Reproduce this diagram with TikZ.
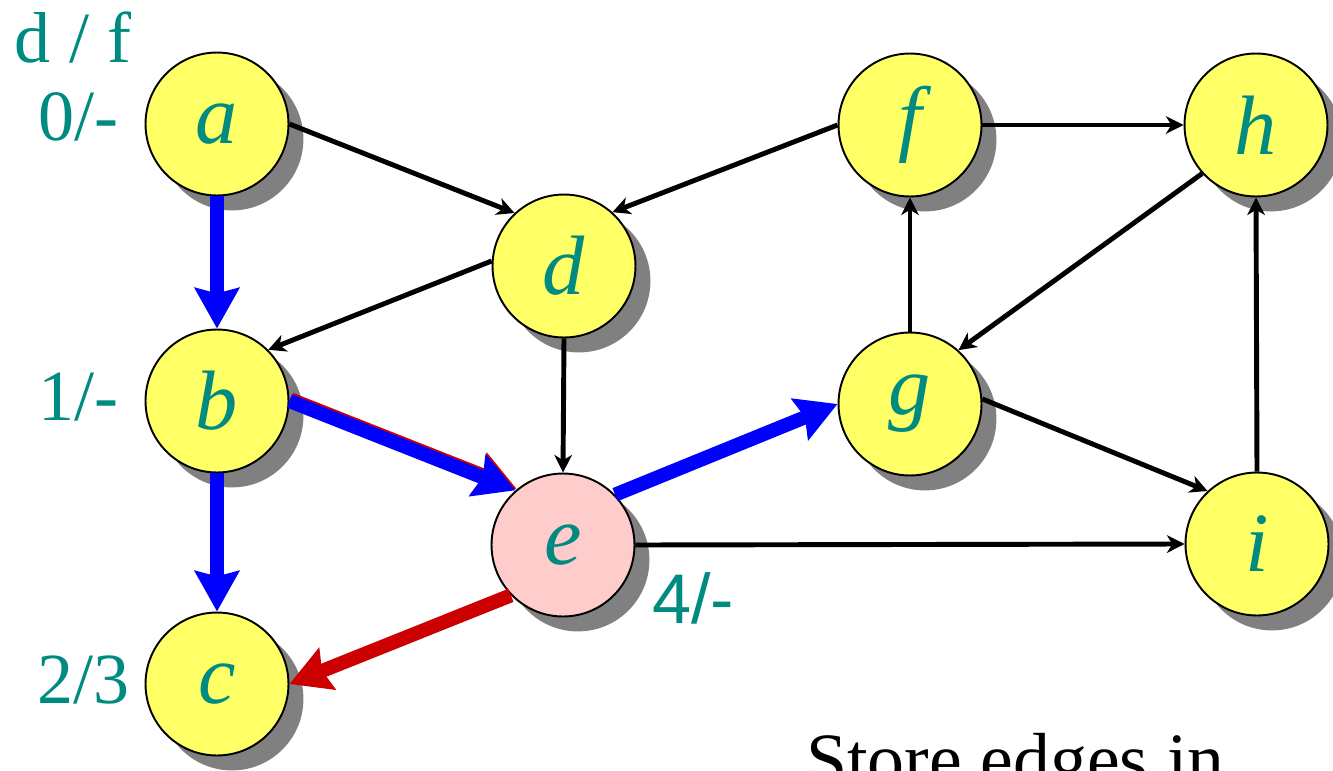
\documentclass[tikz,border=0pt]{standalone}
\usepackage{fontspec}
\setmainfont{Liberation Serif}
\newfontfamily\stampsans{Liberation Sans}
\usetikzlibrary{arrows.meta,shadows}
\definecolor{vtxyellow}{RGB}{255,255,102}
\definecolor{vtxpink}{RGB}{255,204,204}
\definecolor{stampteal}{RGB}{0,139,128}
\definecolor{treeblue}{RGB}{0,0,255}
\definecolor{backred}{RGB}{204,0,0}

\begin{document}
\begin{tikzpicture}[x=0.02cm,y=-0.02cm,
    vertex/.style={circle,draw,line width=1.1pt,fill=vtxyellow,minimum size=2.86cm,inner sep=0pt,
      text=stampteal,font=\fontsize{48}{48}\selectfont\itshape,
      drop shadow={shadow xshift=8.5pt,shadow yshift=-8.5pt,fill=black!50,opacity=1}},
    stamp/.style={text=stampteal,font=\fontsize{41}{41}\selectfont,inner sep=0pt},
    edge/.style={line width=2.8pt,-{Stealth[length=10pt,width=10pt,inset=3pt]}},
    treeedge/.style={line width=8pt,treeblue,-{Stealth[length=23pt,width=25pt,inset=3pt]}},
    backedge/.style={line width=8pt,backred,-{Stealth[length=23pt,width=25pt,inset=3pt]}}]
  \useasboundingbox (0,0) rectangle (1333,771);
  \clip (0,0) rectangle (1333,771);

  % vertices
  \node[vertex] (a) at (217,124) {a};
  \node[vertex] (b) at (217,401) {b};
  \node[vertex] (c) at (217,684) {c};
  \node[vertex] (d) at (564,266) {d};
  \node[vertex,fill=vtxpink] (e) at (563,545) {e};
  \node[vertex] (f) at (910,125) {f};
  \node[vertex] (g) at (910,404) {g};
  \node[vertex] (h) at (1256,125) {h};
  \node[vertex] (i) at (1257,544) {i};

  % discovery / finish times
  \node[stamp,anchor=base] (df) at (73,62) {d / f};
  \node[stamp,anchor=base east] (ta) at (119,140) {0/-};
  \node[stamp,anchor=base east] (tb) at (119,420) {1/-};
  \node[stamp,anchor=base east] (tc) at (130,703) {2/3};
  \node[stamp,anchor=base west,font=\fontsize{40}{40}\selectfont\stampsans] (te) at (652,623) {4/-};

  % graph edges
  \draw[edge] (a.east) -- (d.133);
  \draw[edge] (f.west) -- (d.48);
  \draw[edge] (f.east) -- (h.west);
  \draw[edge] (d.176) -- (b.45);
  \draw[edge] (d.south) -- (e.north);
  \draw[edge] (g.north) -- (f.south);
  \draw[edge] (h.222) -- (g.48);
  \draw[edge] (g.4) -- (i.133);
  \draw[edge] (i.north) -- (h.south);
  \draw[edge] (e.east) -- (i.west);

  % tree edges and the back edge
  \draw[treeedge] (a.south) -- (b.north);
  \draw[treeedge] (b.south) -- (c.north);
  \draw[treeedge,backred,transform canvas={shift={(0.6pt,0.9pt)}}] (b.east) -- (e.131);
  \draw[treeedge] (b.east) -- (e.131);
  \draw[treeedge] (e.44) -- (g.west);
  \draw[backedge] (e.224) -- (c.east);

  \node[anchor=base west,font=\fontsize{42}{42}\selectfont,inner sep=0pt] (note) at (806,784) {Store edges in};
\end{tikzpicture}
\end{document}
